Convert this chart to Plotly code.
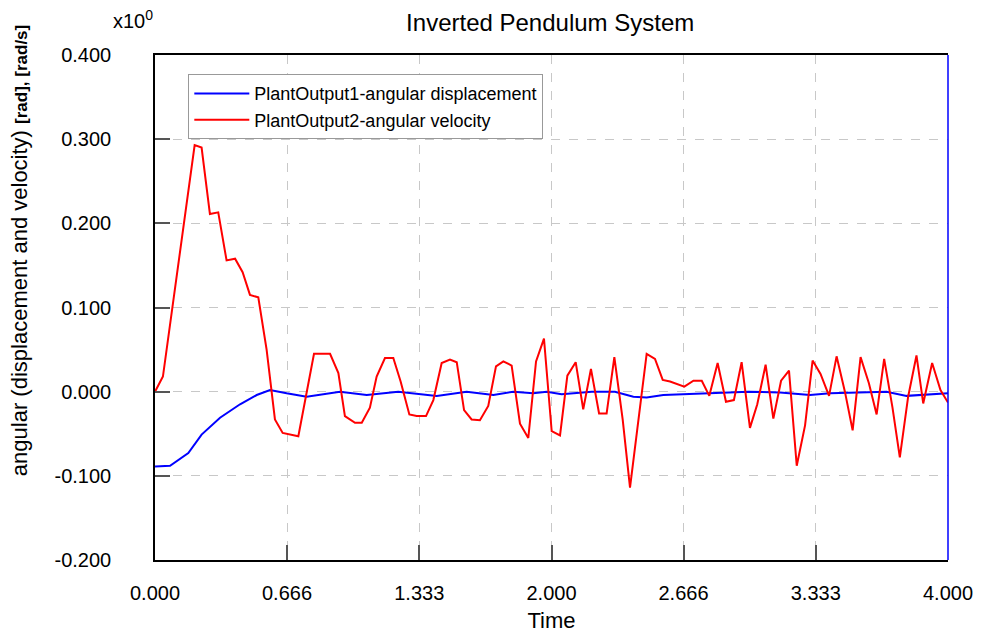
import plotly.graph_objects as go

# ---- data ----
t_disp = [0.0, 0.076, 0.168, 0.235, 0.328, 0.429, 0.513, 0.58, 0.664, 0.765,
          0.933, 1.068, 1.227, 1.421, 1.572, 1.707, 1.808, 1.908, 1.976, 2.051,
          2.203, 2.320, 2.413, 2.480, 2.564, 2.665, 2.782, 2.993, 3.153, 3.304,
          3.405, 3.690, 3.791, 3.875, 4.0]
angular_disp = [-0.089, -0.088, -0.073, -0.051, -0.031, -0.015, -0.004, 0.002, -0.002, -0.006,
                0.0, -0.004, 0.0, -0.005, 0.0, -0.004, 0.0, -0.002, 0.0, -0.003,
                0.0, 0.0, -0.006, -0.007, -0.004, -0.003, -0.002, 0.0, -0.001, -0.004,
                -0.002, 0.0, -0.005, -0.004, -0.002]

t_vel = [0.0, 0.04, 0.2, 0.235, 0.277, 0.319, 0.361, 0.404, 0.442, 0.479,
         0.521, 0.563, 0.605, 0.644, 0.723, 0.802, 0.883, 0.925, 0.958, 1.009,
         1.043, 1.084, 1.118, 1.160, 1.202, 1.239, 1.283, 1.320, 1.367, 1.404,
         1.446, 1.488, 1.522, 1.559, 1.597, 1.639, 1.681, 1.720, 1.757, 1.799,
         1.841, 1.883, 1.922, 1.962, 2.001, 2.043, 2.080, 2.122, 2.160, 2.199,
         2.240, 2.278, 2.317, 2.359, 2.396, 2.438, 2.480, 2.522, 2.561, 2.598,
         2.670, 2.716, 2.758, 2.796, 2.838, 2.880, 2.920, 2.959, 3.001, 3.038,
         3.080, 3.119, 3.158, 3.198, 3.237, 3.279, 3.317, 3.357, 3.400, 3.438,
         3.480, 3.519, 3.559, 3.601, 3.640, 3.678, 3.720, 3.757, 3.799, 3.841,
         3.875, 3.920, 3.962, 4.0]
angular_vel = [0.0, 0.018, 0.293, 0.290, 0.211, 0.213, 0.156, 0.158, 0.142, 0.115,
               0.112, 0.050, -0.033, -0.049, -0.053, 0.045, 0.045, 0.022, -0.029, -0.037,
               -0.037, -0.019, 0.018, 0.040, 0.040, 0.012, -0.027, -0.029, -0.029, -0.010,
               0.034, 0.038, 0.035, -0.022, -0.033, -0.034, -0.017, 0.030, 0.036, 0.031,
               -0.038, -0.055, 0.036, 0.063, -0.047, -0.052, 0.019, 0.035, -0.021, 0.027,
               -0.026, -0.026, 0.041, -0.033, -0.114, -0.033, 0.045, 0.039, 0.014, 0.012,
               0.006, 0.013, 0.013, -0.005, 0.034, -0.012, -0.010, 0.035, -0.043, -0.015,
               0.032, -0.032, 0.013, 0.025, -0.088, -0.040, 0.037, 0.021, -0.005, 0.042,
               0.000, -0.046, 0.041, 0.010, -0.027, 0.039, -0.019, -0.078, -0.006, 0.043,
               -0.014, 0.034, 0.002, -0.013]

x_tickvals = [0.0, 0.666, 1.333, 2.0, 2.666, 3.333, 4.0]
x_ticktext = ["0.000", "0.666", "1.333", "2.000", "2.666", "3.333", "4.000"]
y_tickvals = [-0.2, -0.1, 0.0, 0.1, 0.2, 0.3, 0.4]
y_ticktext = ["-0.200", "-0.100", "0.000", "0.100", "0.200", "0.300", "0.400"]

series_names = ["PlantOutput1-angular displacement", "PlantOutput2-angular velocity"]

FONT = "Liberation Sans, Arial, sans-serif"

fig = go.Figure()
fig.add_trace(go.Scatter(x=t_disp, y=angular_disp, mode="lines", name=series_names[0],
                         line=dict(color="#0000ff", width=2)))
fig.add_trace(go.Scatter(x=t_vel, y=angular_vel, mode="lines", name=series_names[1],
                         line=dict(color="#ff0000", width=2)))

common = dict(showgrid=True, gridcolor="#c8c8c8", griddash="dash", gridwidth=1,
              zeroline=False, showline=True, linecolor="black", linewidth=1.5,
              ticks="inside", ticklen=15, tickcolor="#555555", tickwidth=1.5,
              automargin=False,
              tickfont=dict(size=20, color="black", family=FONT))

fig.update_xaxes(range=[0, 4], tickvals=x_tickvals, ticktext=x_ticktext, mirror=True,
                 ticklabelstandoff=14,
                 title=dict(text="Time", font=dict(size=22, family=FONT, color="black"), standoff=10),
                 **common)
fig.update_yaxes(range=[-0.2, 0.4], tickvals=y_tickvals, ticktext=y_ticktext,
                 ticklabelstandoff=38, **common)

fig.update_layout(
    width=986, height=636,
    margin=dict(l=155, r=38, t=55, b=76, autoexpand=False),
    paper_bgcolor="white", plot_bgcolor="white",
    font=dict(family=FONT, color="black"),
    title=dict(text="Inverted Pendulum System", x=0.558, xanchor="center", y=0.965, yanchor="middle",
               font=dict(size=24, family=FONT, color="black")),
    legend=dict(x=0.042, y=0.962, xanchor="left", yanchor="top",
                bgcolor="white", bordercolor="#999999", borderwidth=1,
                itemwidth=55,
                font=dict(size=18, family=FONT, color="black"), tracegroupgap=0),
    showlegend=True,
    shapes=[dict(type="line", xref="paper", yref="paper", x0=1, x1=1, y0=0, y1=1,
                 line=dict(color="#0000ff", width=1.5))],
    annotations=[
        dict(text="angular (displacement and velocity) <b><span style='font-size:17px'>[rad], [rad/s]</span></b>",
             xref="paper", yref="paper", x=-0.17, y=0.612, textangle=-90,
             showarrow=False, xanchor="center", yanchor="middle",
             font=dict(size=22, family=FONT, color="black")),
        dict(text="x10<sup>0</sup>", xref="paper", yref="paper", x=-0.055, y=1.07,
             showarrow=False, xanchor="left", yanchor="middle",
             font=dict(size=20, family=FONT, color="black")),
    ],
)

fig.write_html("out.html")
